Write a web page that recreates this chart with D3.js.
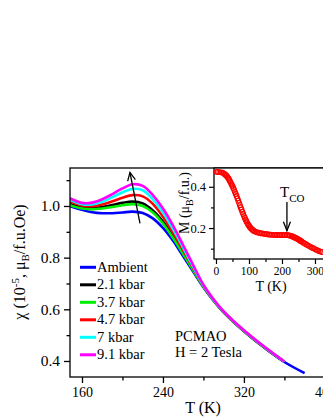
<!DOCTYPE html>
<html><head><meta charset="utf-8">
<script src="https://cdn.jsdelivr.net/npm/d3@7"></script>
<style>body{margin:0;background:#fff;}svg{display:block;} text{font-family:"Liberation Serif","Times New Roman",Tinos,"DejaVu Serif",serif;}</style>
</head><body>
<svg id="c" width="323" height="418"></svg>
<script>
// ---- Main chart data ----
const temps = [148,160,170,180,190,200,210,220,230,240,250,260,270,280,290,300,320,340,360,380];
const seriesNames = ["Ambient","2.1 kbar","3.7 kbar","4.7 kbar","7 kbar","9.1 kbar"];
const seriesColors = ["#0000ff","#000000","#00ee00","#ff0000","#00ffff","#ff00ff"];
const ambient = [1.0,0.985,0.976,0.972,0.972,0.975,0.978,0.973,0.952,0.915,0.865,0.805,0.745,0.685,0.633,0.588,0.515,0.452,0.396,0.353];
const kbar21 = [1.008,0.995,0.992,0.996,1.004,1.012,1.017,1.010,0.983,0.940,0.882,0.818,0.752,0.688,0.635,0.589,0.516,0.453,0.397];
const kbar37 = [1.003,0.990,0.987,0.990,0.996,1.003,1.007,1.000,0.975,0.932,0.876,0.814,0.750,0.687,0.634,0.589,0.516,0.453,0.397];
const kbar47 = [1.018,1.002,0.999,1.006,1.018,1.032,1.042,1.037,1.008,0.958,0.896,0.828,0.758,0.690,0.636,0.590,0.517,0.454,0.398];
const kbar7  = [1.024,1.007,1.006,1.016,1.034,1.053,1.066,1.061,1.026,0.975,0.910,0.838,0.763,0.692,0.637,0.591,0.518,0.455,0.398];
const kbar91 = [1.030,1.012,1.013,1.026,1.046,1.068,1.084,1.078,1.042,0.990,0.924,0.848,0.770,0.695,0.639,0.592,0.519,0.456,0.398];
const xTicksMain = [160,240,320,400];
const xMinorMain = [200,280,360];
const yTicksMain = [0.4,0.6,0.8,1.0];
const yMinorMain = [0.5,0.7,0.9,1.1];

// ---- Inset data ----
const insetT = [2,5,10,15,20,25,27.5,30,32.5,35,37.5,40,42.5,45,47.5,50,52.5,55,57.5,60,62.5,65,67.5,70,72.5,75,77.5,80,82.5,85,87.5,90,92.5,95,97.5,100,102.5,105,107.5,110,112.5,115,120,125,130,135,140,145,150,155,160,165,170,175,180,185,190,195,200,205,210,215,220,225,230,232.5,235,237.5,240,242.5,245,247.5,250,252.5,255,257.5,260,265,270,275,280,285,290,295,300,305,310,315,320];
const insetM = [0.472,0.472,0.471,0.470,0.468,0.463,0.460,0.456,0.452,0.447,0.441,0.434,0.427,0.419,0.411,0.403,0.394,0.385,0.375,0.365,0.355,0.344,0.333,0.322,0.311,0.300,0.289,0.278,0.268,0.258,0.249,0.240,0.232,0.224,0.217,0.211,0.205,0.200,0.196,0.192,0.189,0.186,0.182,0.179,0.177,0.175,0.174,0.172,0.171,0.170,0.169,0.168,0.167,0.167,0.166,0.166,0.166,0.166,0.166,0.166,0.166,0.166,0.165,0.163,0.160,0.159,0.157,0.155,0.153,0.151,0.149,0.147,0.144,0.142,0.139,0.137,0.134,0.129,0.124,0.119,0.115,0.110,0.106,0.102,0.098,0.094,0.090,0.087,0.084];
const xTicksInset = [0,100,200,300];
const xMinorInset = [50,150,250];
const yTicksInset = [0.2,0.4];
const yMinorInset = [0.1,0.3];

const svg = d3.select("#c");

// Main scales
const L=70, R=335, T=168, B=377;
const x = d3.scaleLinear().domain([148.15,410]).range([L,R]);
const y = d3.scaleLinear().domain([0.338,1.147]).range([B,T]);

const defs = svg.append("defs");
defs.append("clipPath").attr("id","clipMain").append("rect").attr("x",L).attr("y",T).attr("width",R-L).attr("height",B-T);

const allSeries = [ambient,kbar21,kbar37,kbar47,kbar7,kbar91];
const line = d3.line().x(d=>x(d[0])).y(d=>y(d[1])).curve(d3.curveCatmullRom.alpha(0.5));
const gLines = svg.append("g").attr("clip-path","url(#clipMain)");
allSeries.forEach((vals,i)=>{
  const pts = vals.map((v,j)=>[temps[j],v]);
  gLines.append("path").attr("d",line(pts)).attr("fill","none")
    .attr("stroke",seriesColors[i]).attr("stroke-width",2.6).attr("stroke-linejoin","round");
});

// Main frame
svg.append("rect").attr("x",L).attr("y",T).attr("width",R-L).attr("height",B-T)
  .attr("fill","none").attr("stroke","#000").attr("stroke-width",1.3);

// Main axes
const xAxis = d3.axisBottom(x).tickValues(xTicksMain).tickFormat(d3.format("d")).tickSize(6).tickPadding(4);
const gx = svg.append("g").attr("transform",`translate(0,${B})`).call(xAxis);
gx.attr("font-family",null).attr("font-size",null);
gx.select(".domain").remove();
gx.selectAll("line").attr("stroke-width",1.3);
gx.selectAll("text").style("font-size","14px").attr("fill","#000");
const gxm = svg.append("g").attr("transform",`translate(0,${B})`).call(d3.axisBottom(x).tickValues(xMinorMain).tickFormat("").tickSize(3.5));
gxm.select(".domain").remove(); gxm.selectAll("line").attr("stroke-width",1.3);

const yAxis = d3.axisLeft(y).tickValues(yTicksMain).tickFormat(d3.format(".1f")).tickSize(6).tickPadding(4);
const gy = svg.append("g").attr("transform",`translate(${L},0)`).call(yAxis);
gy.attr("font-family",null).attr("font-size",null);
gy.select(".domain").remove();
gy.selectAll("line").attr("stroke-width",1.3);
gy.selectAll("text").style("font-size","15.5px").attr("fill","#000");
const gym = svg.append("g").attr("transform",`translate(${L},0)`).call(d3.axisLeft(y).tickValues(yMinorMain).tickFormat("").tickSize(3.5));
gym.select(".domain").remove(); gym.selectAll("line").attr("stroke-width",1.3);

// Axis labels
svg.append("text").attr("x",203).attr("y",413).attr("text-anchor","middle")
  .style("font-size","16px").text("T (K)");
const yl = svg.append("text").attr("transform","translate(25,262) rotate(-90)").attr("text-anchor","middle")
  .style("font-size","16px");
yl.append("tspan").text("χ (10");
yl.append("tspan").style("font-size","11px").attr("dy",-6).text("-5");
yl.append("tspan").attr("dy",6).text(", μ");
yl.append("tspan").style("font-size","11px").attr("dy",4).text("B");
yl.append("tspan").attr("dy",-4).text("/f.u.Oe)");

// Pressure arrow (open head)
const ax0=x(217.3), ay0=y(0.933), ax1=x(207.4), ay1=y(1.13);
svg.append("line").attr("x1",ax0).attr("y1",ay0).attr("x2",ax1).attr("y2",ay1).attr("stroke","#000").attr("stroke-width",1.3);
(function(){
  const ang=Math.atan2(ay1-ay0,ax1-ax0), len=9, spread=0.45;
  const p1=[ax1-len*Math.cos(ang-spread), ay1-len*Math.sin(ang-spread)];
  const p2=[ax1-len*Math.cos(ang+spread), ay1-len*Math.sin(ang+spread)];
  svg.append("path").attr("d",`M${p1[0]},${p1[1]}L${ax1},${ay1}L${p2[0]},${p2[1]}`)
    .attr("fill","none").attr("stroke","#000").attr("stroke-width",1.3);
})();

// Legend
const leg = svg.append("g");
seriesNames.forEach((n,i)=>{
  const yy = 267.3 + i*17.5;
  leg.append("line").attr("x1",80).attr("x2",96).attr("y1",yy).attr("y2",yy)
    .attr("stroke",seriesColors[i]).attr("stroke-width",3);
  leg.append("text").attr("x",97).attr("y",yy+4.5).style("font-size","14.5px").text(n);
});

// Annotation
svg.append("text").attr("x",175).attr("y",340.5).style("font-size","14.5px").text("PCMAO");
svg.append("text").attr("x",175).attr("y",356.5).style("font-size","14.5px").text("H = 2 Tesla");

// ---- Inset ----
const iL=214, iT=168, iB=259;
const xi = d3.scaleLinear().domain([-6,330]).range([iL,iL+336*0.33]);
const yi = d3.scaleLinear().domain([0.05,0.491]).range([iB,iT]);
svg.append("rect").attr("x",iL).attr("y",iT).attr("width",120).attr("height",iB-iT)
  .attr("fill","#fff").attr("stroke","#000").attr("stroke-width",1.3);
defs.append("clipPath").attr("id","clipInset").append("rect").attr("x",iL).attr("y",iT).attr("width",120).attr("height",iB-iT);
const gi = svg.append("g").attr("clip-path","url(#clipInset)");
gi.selectAll("circle").data(insetT).enter().append("circle")
  .attr("cx",(d)=>xi(d)).attr("cy",(d,i)=>yi(insetM[i])).attr("r",2.4)
  .attr("fill","none").attr("stroke","#ff0000").attr("stroke-width",1.1);

const gxi = svg.append("g").attr("transform",`translate(0,${iB})`).call(d3.axisBottom(xi).tickValues(xTicksInset).tickFormat(d3.format("d")).tickSize(5).tickPadding(3));
gxi.attr("font-family",null).attr("font-size",null);
gxi.select(".domain").remove(); gxi.selectAll("line").attr("stroke-width",1.2);
gxi.selectAll("text").style("font-size","11.5px").attr("fill","#000");
const gxim = svg.append("g").attr("transform",`translate(0,${iB})`).call(d3.axisBottom(xi).tickValues(xMinorInset).tickFormat("").tickSize(3));
gxim.select(".domain").remove(); gxim.selectAll("line").attr("stroke-width",1.2);

const gyi = svg.append("g").attr("transform",`translate(${iL},0)`).call(d3.axisLeft(yi).tickValues(yTicksInset).tickFormat(d3.format(".1f")).tickSize(5).tickPadding(3));
gyi.attr("font-family",null).attr("font-size",null);
gyi.select(".domain").remove(); gyi.selectAll("line").attr("stroke-width",1.2);
gyi.selectAll("text").style("font-size","12.5px").attr("fill","#000");
const gyim = svg.append("g").attr("transform",`translate(${iL},0)`).call(d3.axisLeft(yi).tickValues(yMinorInset).tickFormat("").tickSize(3));
gyim.select(".domain").remove(); gyim.selectAll("line").attr("stroke-width",1.2);

svg.append("text").attr("x",271).attr("y",291).attr("text-anchor","middle")
  .style("font-size","14px").text("T (K)");
const iyl = svg.append("text").attr("transform","translate(189,203) rotate(-90)").attr("text-anchor","middle")
  .style("font-size","14px");
iyl.append("tspan").text("M (μ");
iyl.append("tspan").style("font-size","10px").attr("dy",3.5).text("B");
iyl.append("tspan").attr("dy",-3.5).text("/f.u.)");

// T_CO annotation
const tco = svg.append("text").attr("x",280).attr("y",197).style("font-size","15px");
tco.append("tspan").text("T");
tco.append("tspan").style("font-size","11px").attr("dy",5).text("CO");
const tx = xi(215), ty0 = 202, ty1 = yi(0.187);
svg.append("line").attr("x1",tx).attr("x2",tx).attr("y1",ty0).attr("y2",ty1).attr("stroke","#000").attr("stroke-width",1.3);
svg.append("path").attr("d",`M${tx-3.5},${ty1-9}L${tx},${ty1}L${tx+3.5},${ty1-9}`).attr("fill","none").attr("stroke","#000").attr("stroke-width",1.3);
</script>
</body></html>
